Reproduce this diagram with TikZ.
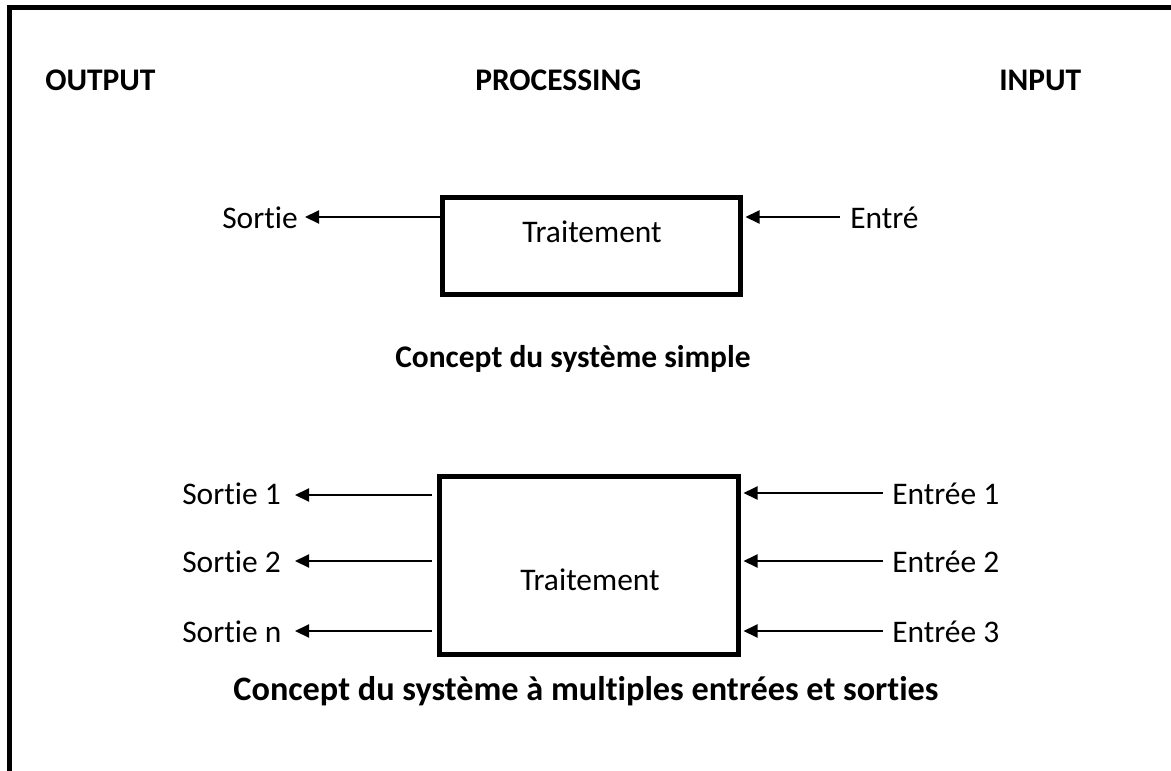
\documentclass[tikz,border=0pt]{standalone}
\usepackage{fontspec}
\setmainfont{Carlito}[Ligatures={NoCommon,NoContextual}]
\usetikzlibrary{arrows.meta}
\tikzset{
  x=0.75pt, y=-0.75pt,
  frameline/.style={line width=3.75pt, line join=miter},
  procbox/.style={draw, line width=3.75pt, inner sep=0pt},
  flow/.style={line width=1.5pt, -{Triangle[length=10.5pt, width=9.75pt]}},
  lbl/.style={anchor=base west, inner sep=0pt, font=\fontsize{23.6pt}{28pt}\selectfont},
  head/.style={lbl, font=\fontsize{23.6pt}{28pt}\selectfont\bfseries},
  caption/.style={anchor=base, inner sep=0pt, font=\fontsize{25.7pt}{30pt}\selectfont\bfseries}
}
\begin{document}
\begin{tikzpicture}
\useasboundingbox (0,0) rectangle (1171,771);
% frame (top and left edges)
\draw[frameline] (9.5,771) -- (9.5,7.5) -- (1171,7.5);

% column headings
\node[head] (hout) at (45,90) {OUTPUT};
\node[head] (hproc) at (475,90) {PROCESSING};
\node[head] (hin) at (999,90) {INPUT};

% simple system
\node[procbox, minimum width=223.5pt, minimum height=72.75pt] (b1) at (591.5,246) {};
\node[lbl] (t1) at (522,242) {Traitement};
\node[lbl] (out1) at (222,228) {Sortie};
\node[lbl] (in1) at (850,228) {Entré};
\coordinate (o1) at (305,217);
\coordinate (i1) at (840,217);
\draw[flow] (b1.west |- o1) -- (o1);
\draw[flow, shorten >=1.875pt] (i1) -- (b1.east |- i1);
\node[head] (c1) at (395,367) {Concept du système simple};

% multiple inputs and outputs
\node[procbox, minimum width=224.25pt, minimum height=133.5pt] (b2) at (589,565.5) {};
\node[lbl] (t2) at (520,590) {Traitement};

\node[lbl] (outa) at (182,504) {Sortie 1};
\node[lbl] (outb) at (182,572) {Sortie 2};
\node[lbl] (outn) at (182,642) {Sortie n};
\node[lbl] (ina) at (892,504) {Entrée 1};
\node[lbl] (inb) at (892,572) {Entrée 2};
\node[lbl] (inc) at (892,642) {Entrée 3};

\coordinate (oa) at (295,495);
\coordinate (ob) at (295,561);
\coordinate (on) at (295,631);
\coordinate (ia) at (883,493);
\coordinate (ib) at (883,561);
\coordinate (ic) at (883,631);

\foreach \c in {oa,ob,on}
  \draw[flow] ([xshift=-3.75pt]b2.west |- \c) -- (\c);
\foreach \c in {ia,ib,ic}
  \draw[flow, shorten >=1.875pt] (\c) -- (b2.east |- \c);

\node[caption] (c2) at (586,700) {Concept du système à multiples entrées et sorties};
\end{tikzpicture}
\end{document}
